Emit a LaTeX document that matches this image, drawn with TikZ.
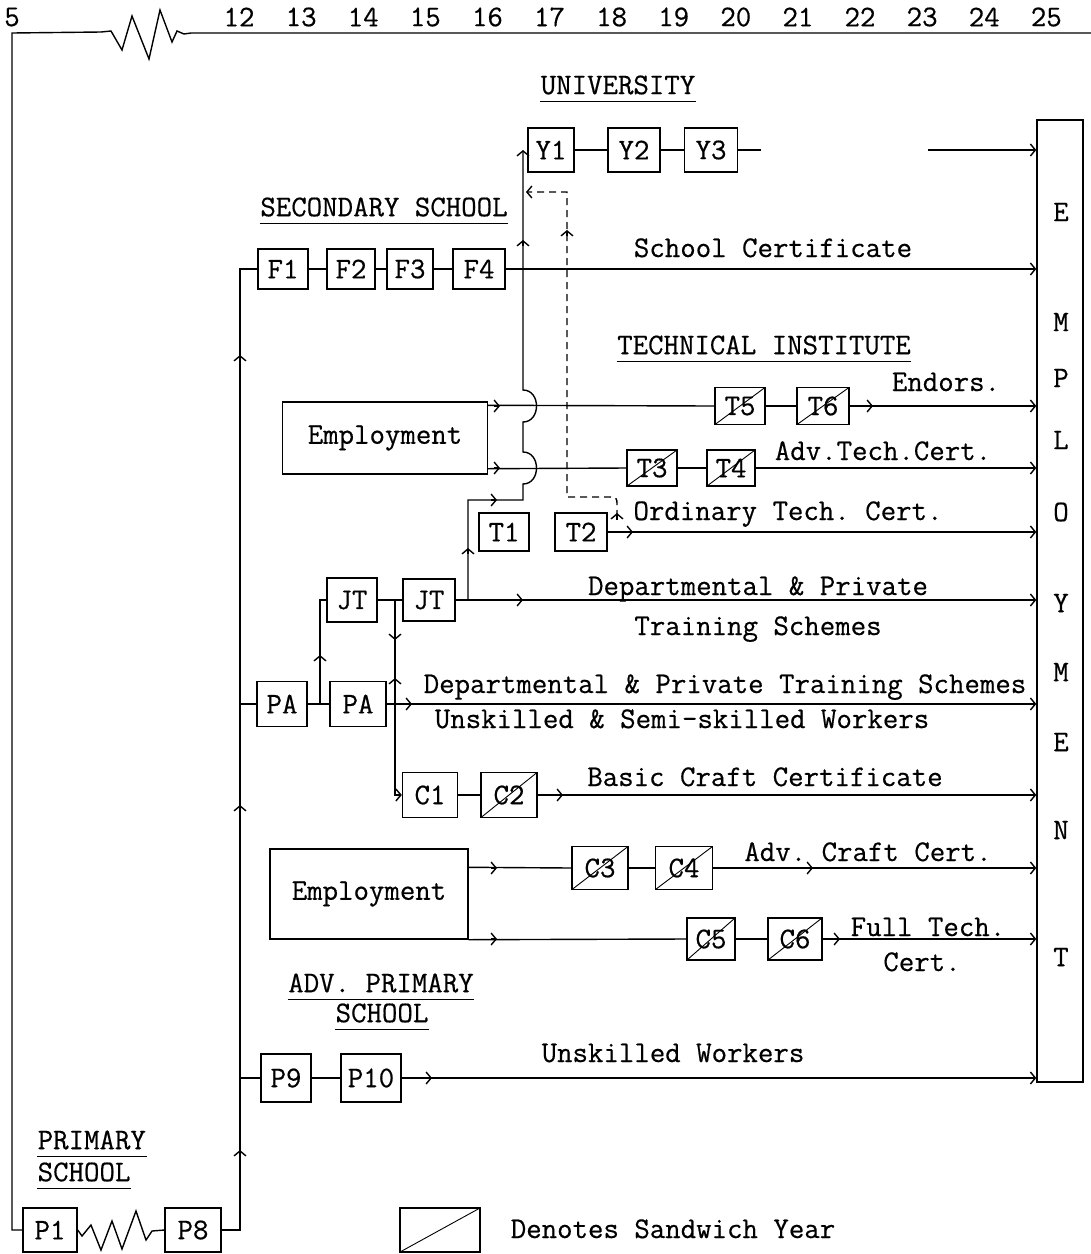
\documentclass[tikz,border=0pt]{standalone}
\usepackage{fontspec}
\setmonofont{Latin Modern Mono}[FakeBold=0.5]
\usetikzlibrary{arrows.meta,calc}
\begin{document}
\begin{tikzpicture}[x=1pt,y=-1pt,
  line width=1.4pt,
  >={Straight Barb[length=5pt,width=12pt]},
  every node/.style={font=\ttfamily\fontsize{30}{34}\selectfont, inner sep=0pt},
  yr/.style={draw, minimum width=#1, minimum height=44},
  sw/.style={yr=#1, path picture={\draw[line width=0.9pt] (path picture bounding box.south west) -- (path picture bounding box.north east);}},
  lbl/.style={anchor=base},
  dsh/.style={dash pattern=on 7pt off 5pt},
]
\useasboundingbox (0,0) rectangle (1091,1254);

% axis labels
\node (n5) at (12,17) {5};
\foreach \k [count=\i from 0] in {12,...,25} {\node (n\k) at (239+62.1*\i,17) {\k};}

% titles
\node (uni) at (618,85) {UNIVERSITY};
\node (sec) at (384,207) {SECONDARY SCHOOL};
\node (tec) at (764,345) {TECHNICAL INSTITUTE};
\node (adv1) at (381,983) {ADV. PRIMARY};
\node (adv2) at (382,1013) {SCHOOL};
\node[anchor=west] (pri1) at (37,1140) {PRIMARY};
\node[anchor=west] (pri2) at (37,1172) {SCHOOL};
\foreach \n in {uni,sec,tec,adv1,adv2,pri1,pri2}
  {\draw ([yshift=-6pt]\n.south west) -- ([yshift=-6pt]\n.south east);}

% employment box
\node[draw, minimum width=46, minimum height=962] (emp) at (1060,601) {};
\foreach \l/\yy [count=\i] in {E/212,M/322,P/378,L/440,O/512,Y/603,M/672,E/742,N/830,T/957}
  {\node (L\i) at (1061,\yy) {\l};}

% boxes
\node[yr=54] (P1) at (50,1230) {P1};
\node[yr=56] (P8) at (193,1230) {P8};
\node[yr=50, minimum height=48] (P9) at (286,1078) {P9};
\node[yr=60, minimum height=48] (P10) at (371,1078) {P10};
\node[yr=50, minimum height=40] (F1) at (283,269) {F1};
\node[yr=48, minimum height=40] (F2) at (351,269) {F2};
\node[yr=46, minimum height=40] (F3) at (410,269) {F3};
\node[yr=52, minimum height=40] (F4) at (479,269) {F4};
\node[yr=46] (Y1) at (551,150) {Y1};
\node[yr=52] (Y2) at (634,150) {Y2};
\node[yr=53] (Y3) at (711,150) {Y3};
\node[yr=205, minimum height=72] (em1) at (385,438) {Employment};
\node[sw=50, minimum height=37] (T5) at (740,406) {T5};
\node[sw=52, minimum height=37] (T6) at (823,406) {T6};
\node[sw=50, minimum height=36] (T3) at (652,468) {T3};
\node[sw=48, minimum height=36] (T4) at (731,468) {T4};
\node[yr=50, minimum height=38] (T1) at (504,532) {T1};
\node[yr=52, minimum height=38] (T2) at (581,532) {T2};
\node[yr=50] (JT1) at (352,600) {JT};
\node[yr=52, minimum height=42] (JT2) at (429,600) {JT};
\node[yr=50, minimum height=45] (PA1) at (282,704) {PA};
\node[yr=56, minimum height=45] (PA2) at (358,704) {PA};
\node[yr=55, minimum height=45] (C1) at (430,795) {C1};
\node[sw=56, minimum height=45] (C2) at (509,795) {C2};
\node[yr=198, minimum height=90] (em2) at (369,894) {Employment};
\node[sw=56, minimum height=43] (C3) at (600,868) {C3};
\node[sw=57, minimum height=43] (C4) at (684,868) {C4};
\node[sw=48, minimum height=42] (C5) at (711,939) {C5};
\node[sw=54, minimum height=42] (C6) at (795,939) {C6};
\node[sw=80] (leg) at (440,1230) {};

% texts
\node[lbl] (tSC) at (773,257) {School Certificate};
\node[lbl] (tEn) at (946,391) {Endors.};
\node[lbl] (tAT) at (883,460) {Adv.Tech.Cert.};
\node[lbl] (tOT) at (788,520) {Ordinary Tech. Cert.};
\node[lbl] (tD1) at (758,595) {Departmental \& Private};
\node[lbl] (tD2) at (758,635) {Training Schemes};
\node[lbl] (tD3) at (725,693) {Departmental \& Private Training Schemes};
\node[lbl] (tUS) at (682,728) {Unskilled \& Semi-skilled Workers};
\node[lbl] (tBC) at (765,786) {Basic Craft Certificate};
\node[lbl] (tAC) at (868,861) {Adv. Craft Cert.};
\node[lbl] (tF1) at (928,936) {Full Tech.};
\node[lbl] (tF2) at (922,971) {Cert.};
\node[lbl] (tUW) at (673,1062) {Unskilled Workers};
\node[lbl] (tLeg) at (673,1238) {Denotes Sandwich Year};

% coordinates
\coordinate (top0) at (12,33);
\coordinate (mv) at (240,1230);
\coordinate (mPA) at (240,704);
\coordinate (mP9) at (240,1078);
\coordinate (ux) at (523,0);
\coordinate (j1) at (395,600);
\coordinate (j2) at (468,600);
\coordinate (j3) at (320,704);
\coordinate (e1a) at ($(em1.north east)+(0,4)$);
\coordinate (e1b) at ($(em1.south east)+(0,-6)$);
\coordinate (e2a) at ($(em2.north east)+(0,19)$);
\coordinate (ya) at (928,150);

% top axis and left border
\draw (P1.west) -- (12,1230) -- (top0) -- (101,32) -- (111,31) -- (122,50) -- (132,16)
  -- (149,59) -- (160,10) -- (172,42) -- (177,31) -- (184,34) -- (191,33) -- (1091,33);
% primary zigzag
\draw (P1.east) -- (82,1236) -- (91,1225) -- (101,1250) -- (112,1221) -- (122,1249)
  -- (136,1211) -- (146,1240) -- (152,1231) -- (P8.west);
% main vertical
\draw (P8.east) -- (mv) -- (240,269) -- (F1.west);
\draw (mPA) -- (PA1.west);
\draw (mP9) -- (P9.west);
\foreach \yy in {1150,805,355} {\draw[->] (240,\yy+6) -- (240,\yy);}

% secondary
\draw (F1) -- (F2) -- (F3) -- (F4);
\draw[->] (F4.east) -- (F4.east -| emp.west);

% university
\draw (Y1) -- (Y2) -- (Y3);
\draw (Y3.east) -- ++(23,0);
\draw[->] (ya) -- (ya -| emp.west);

% JT to university path with bridges
\draw[->] (j2) -- (468,500) -- (523,500) -- (523,484) .. controls (541,484) and (541,452) .. (523,452)
  -- (523,422) .. controls (541,422) and (541,390) .. (523,390) -- (ux |- Y1.west);
\draw[->] (468,554) -- (468,548);
\draw[->] (491,500) -- (497,500);
\draw[->] (523,246) -- (523,240);

% dashed path from T2 to university
\draw[dsh,->] (617,517) -- (617,506) .. controls (617,497) .. (607,497) -- (567,497) -- (567,192) -- (526,192);
\draw[->] (617,520) -- (617,513);
\draw[->] (567,236) -- (567,230);

% technical institute
\draw (e1a) -- (T5.west);
\draw (T5) -- (T6);
\draw[->] (T6.east) -- (T6.east -| emp.west);
\draw (e1b) -- (T3.west);
\draw (T3) -- (T4);
\draw[->] (T4.east) -- (T4.east -| emp.west);
\draw[->] (T2.east) -- (T2.east -| emp.west);
\draw[->] (494,406) -- (500,406);
\draw[->] (494,468) -- (500,468);
\draw[->] (867,406) -- (873,406);
\draw[->] (627,532) -- (633,532);

% JT / PA
\draw (JT1) -- (JT2);
\draw[->] (JT2.east) -- (JT2.east -| emp.west);
\draw[->] (517,600) -- (523,600);
\draw (PA1) -- (PA2);
\draw (j3) -- (320,600) -- (JT1.west);
\draw[->] (320,661) -- (320,655);
\draw[->] (PA2.east) -- (PA2.east -| emp.west);
\draw[->] (406,704) -- (412,704);
\draw[->] (j1) -- (395,795) -- (C1.west);
\draw[->] (395,634) -- (395,640);
\draw[->] (395,684) -- (395,678);

% craft
\draw (C1) -- (C2);
\draw[->] (C2.east) -- (C2.east -| emp.west);
\draw[->] (557,795) -- (563,795);
\draw (e2a) -- (C3.west);
\draw (C3) -- (C4);
\draw[->] (C4.east) -- (C4.east -| emp.west);
\draw[->] (491,868) -- (497,868);
\draw[->] (807,868) -- (813,868);
\draw (em2.south east) -- (C5.west);
\draw (C5) -- (C6);
\draw[->] (C6.east) -- (C6.east -| emp.west);
\draw[->] (491,939) -- (497,939);
\draw[->] (834,939) -- (840,939);

% advanced primary
\draw (P9) -- (P10);
\draw[->] (P10.east) -- (P10.east -| emp.west);
\draw[->] (426,1078) -- (432,1078);
\end{tikzpicture}
\end{document}
